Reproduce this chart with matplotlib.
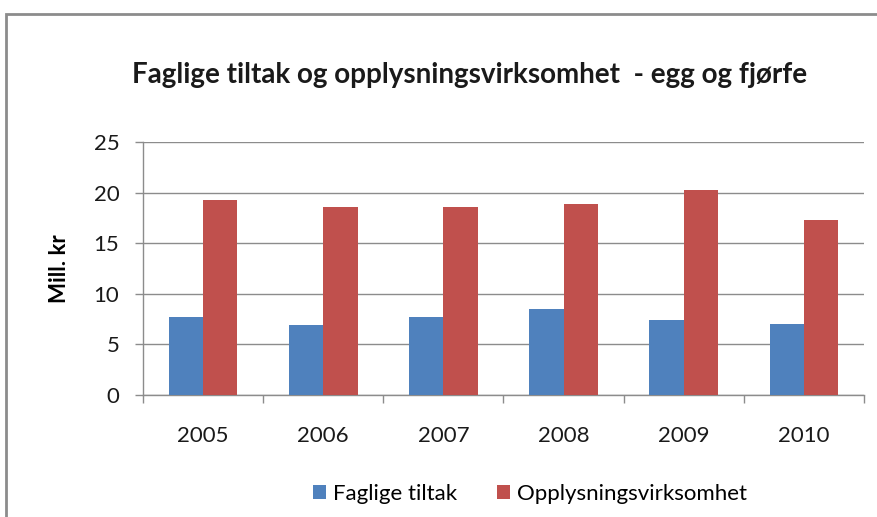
import matplotlib
matplotlib.use("Agg")
import matplotlib.pyplot as plt
from matplotlib.patches import Rectangle
import numpy as np

years = ["2005", "2006", "2007", "2008", "2009", "2010"]
faglige = [7.7, 6.9, 7.7, 8.5, 7.4, 7.0]
opplysning = [19.3, 18.6, 18.6, 18.9, 20.3, 17.3]
series_names = ["Faglige tiltak", "Opplysningsvirksomhet"]
yticks = [0, 5, 10, 15, 20, 25]

plt.rcParams['font.family'] = ['Lato', 'DejaVu Sans']

W, H = 878, 517
fig = plt.figure(figsize=(W/100, H/100), dpi=100)
fig.patch.set_facecolor("white")

# outer frame (cut off at right and bottom)
fig.patches.append(Rectangle((6/W, -0.1), 1.2, 1 - 14/H + 0.1, transform=fig.transFigure,
                             fill=False, edgecolor="#8c8c8c", linewidth=2))

ax = fig.add_axes([143/W, 1 - 395/H, (864-143)/W, (395-142)/H])
x = np.arange(len(years))
bw = 1/3.5
ax.bar(x - bw/2, faglige, bw, color="#4F81BD", label=series_names[0], zorder=3)
ax.bar(x + bw/2, opplysning, bw, color="#C0504D", label=series_names[1], zorder=3)

ax.set_xlim(-0.5, len(years) - 0.5)
ax.set_ylim(0, 25)
ax.set_yticks(yticks)
ax.set_yticklabels([str(t) for t in yticks], fontsize=16, color="#1a1a1a")
ax.set_xticks(x)
ax.set_xticklabels(years, fontsize=16, color="#1a1a1a")
ax.set_xticks(np.arange(-0.5, len(years)), minor=True)
ax.tick_params(axis="x", which="major", length=0, pad=22)
ax.tick_params(axis="x", which="minor", length=6, color="#8c8c8c", width=1)
ax.tick_params(axis="y", length=6, color="#8c8c8c", width=1, pad=11)
ax.yaxis.grid(True, color="#8c8c8c", linewidth=1, zorder=0)
ax.set_axisbelow(True)
for s in ["top", "right"]:
    ax.spines[s].set_visible(False)
for s in ["left", "bottom"]:
    ax.spines[s].set_color("#8c8c8c")
    ax.spines[s].set_linewidth(1)

ax.set_ylabel("Mill. kr", fontsize=16, fontweight="bold")
ax.yaxis.set_label_coords((70 - 143) / (864 - 143), 0.5)

fig.text(470/W, 1 - 75/H, "Faglige tiltak og opplysningsvirksomhet  - egg og fjørfe",
         ha="center", va="center", fontsize=20, fontweight="bold", color="#1a1a1a")

handles, labels = ax.get_legend_handles_labels()
fig.legend(handles, labels, loc="center", bbox_to_anchor=(530/W, 1 - 494/H), ncol=2,
           frameon=False, fontsize=16, handlelength=0.6, handleheight=0.6,
           handletextpad=0.3, columnspacing=1.8)

fig.savefig("out.png", dpi=100)
